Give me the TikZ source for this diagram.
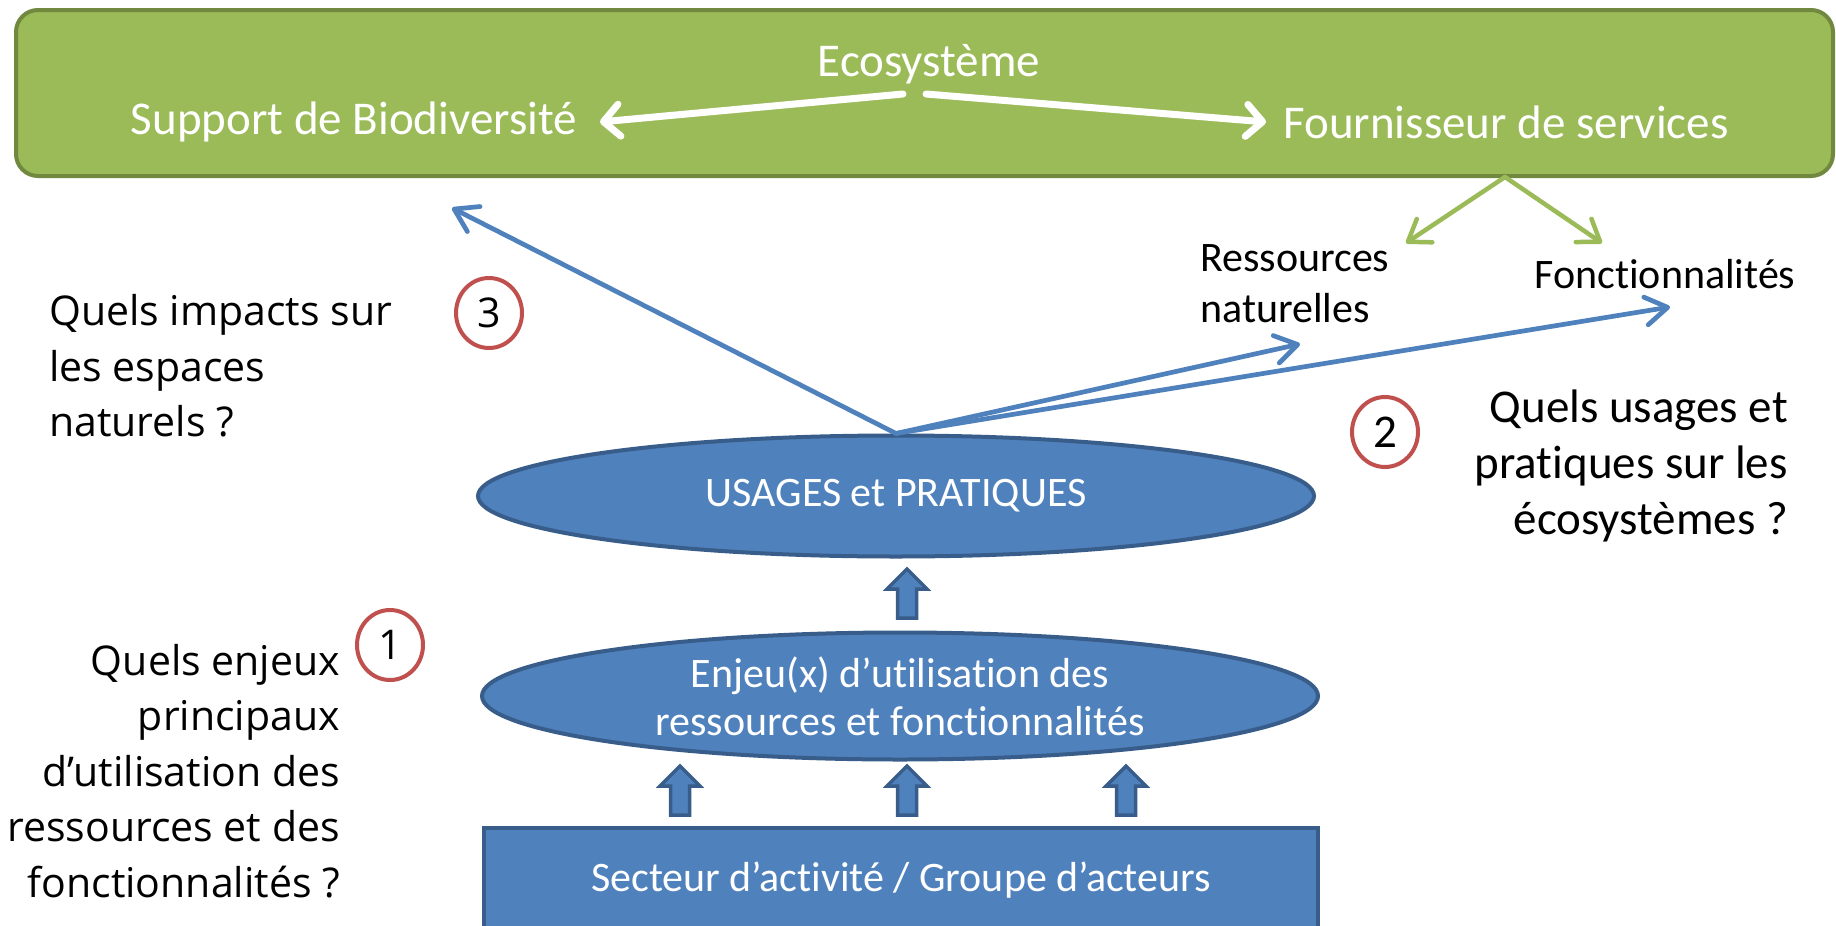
\documentclass[tikz,border=0pt]{standalone}
\usepackage{fontspec}
\setmainfont{Carlito}[Ligatures=NoCommon]
\newfontfamily\osans{Open Sans}[Ligatures=NoCommon]
\usetikzlibrary{shapes.geometric,arrows.meta}
\definecolor{bfill}{HTML}{4F81BD}
\definecolor{bline}{HTML}{385D8A}
\definecolor{gfill}{HTML}{9BBB59}
\definecolor{gline}{HTML}{71893F}
\definecolor{rcirc}{HTML}{C0504D}
\tikzset{
  greenbox/.style={fill=gfill,draw=gline,line width=4pt,rounded corners=22pt},
  wtext/.style={text=white,inner sep=0pt,font=\fontsize{47}{56}\selectfont},
  btext/.style={text=black,inner sep=0pt,font=\fontsize{42}{51}\selectfont},
  qtext/.style={text=black,inner sep=0pt,font=\fontsize{47}{56}\selectfont},
  otext/.style={text=black,inner sep=0pt,font=\osans\fontsize{41}{55.5}\selectfont},
  blueell/.style={ellipse,fill=bfill,draw=bline,line width=4pt,inner sep=0pt,text=white,
     minimum width=836pt,align=center},
  bluerect/.style={rectangle,fill=bfill,draw=bline,line width=4pt,inner sep=0pt,text=white,
     minimum width=834pt,minimum height=104pt,font=\fontsize{42}{51}\selectfont},
  numcirc/.style={ellipse,draw=rcirc,line width=4pt,inner sep=0pt,minimum width=66pt,minimum height=70pt},
  warr/.style={draw=white,line width=7pt,line cap=round,line join=round,
     -{Straight Barb[length=16pt,width=32pt,round]}},
  garr/.style={draw=gfill,line width=4.5pt,line cap=round,line join=round,
     -{Straight Barb[length=20pt,width=28pt,round]}},
  barr/.style={draw=bfill,line width=4.7pt,line cap=round,line join=round,
     -{Straight Barb[length=22pt,width=28pt,round]}},
  blockarr/.style={fill=bfill,draw=bline,line width=3.5pt,line join=miter},
  uparrow/.pic={\path[blockarr] (-9.5,0) -- (-9.5,29) -- (-20,29) -- (0,49) -- (20,29) -- (9.5,29) -- (9.5,0) -- cycle;}
}
\begin{document}
\begin{tikzpicture}[x=1pt,y=1pt]
\clip (0,0) rectangle (1836,-926);
\fill[white] (0,0) rectangle (1836,-926);
% top ecosystem box
\path[greenbox] (16,-10) rectangle (1833,-176);
\node[wtext] (eco) at (929,-64) {Ecosystème};
\node[wtext] (sup) at (354,-122) {Support de Biodiversité};
\node[wtext] (four) at (1506,-122) {Fournisseur de services};
\coordinate (ecoL) at (903,-94);
\coordinate (ecoR) at (926,-94);
\coordinate (supTip) at (600,-122);
\coordinate (fourTip) at (1266,-122);
\draw[warr] (ecoL) -- (supTip);
\draw[warr] (ecoR) -- (fourTip);
% green arrows
\coordinate (gsrc) at (1505,-177);
\node[btext,anchor=west,align=left] (res) at (1200,-284) {Ressources\\naturelles};
\node[btext] (fonc) at (1665,-274) {Fonctionnalités};
\coordinate (gres) at (1406,-243);
\coordinate (gfonc) at (1602,-243);
\draw[garr] (gsrc) -- (gres);
\draw[garr] (gsrc) -- (gfonc);
% ellipses and rectangle
\node[blueell,minimum height=121pt,font=\fontsize{42}{51}\selectfont] (usa) at (896,-496) {USAGES et PRATIQUES};
\node[blueell,minimum height=127pt,font=\fontsize{42}{48}\selectfont] (enj) at (900,-696) {Enjeu(x) d’utilisation des\\ressources et fonctionnalités};
\node[bluerect] (sect) at (901,-880) {Secteur d’activité / Groupe d’acteurs};
% blue connectors
\coordinate (impTip) at (452,-208);
\coordinate (resTip) at (1300,-344);
\coordinate (foncTip) at (1670,-307);
\draw[barr] (usa.north) -- (impTip);
\draw[barr] (usa.north) -- (resTip);
\draw[barr] (usa.north) -- (foncTip);
% block arrows
\pic at (907,-618) {uparrow};
\pic at (680,-815) {uparrow};
\pic at (907,-815) {uparrow};
\pic at (1126,-815) {uparrow};
% questions
\node[otext,anchor=west,align=left] (q3) at (49,-366) {Quels impacts sur\\les espaces\\naturels ?};
\node[numcirc] (c3) at (489,-313) {\osans\fontsize{41}{50}\selectfont 3};
\node[qtext,anchor=east,align=right] (q2) at (1788,-466) {Quels usages et\\pratiques sur les\\écosystèmes ?};
\node[numcirc] (c2) at (1385,-432) {\fontsize{47}{56}\selectfont 2};
\node[otext,anchor=east,align=right] (q1) at (340,-771) {Quels enjeux\\principaux\\d’utilisation des\\ressources et des\\fonctionnalités ?};
\node[numcirc] (c1) at (390,-645) {\osans\fontsize{41}{50}\selectfont 1};
\end{tikzpicture}
\end{document}
